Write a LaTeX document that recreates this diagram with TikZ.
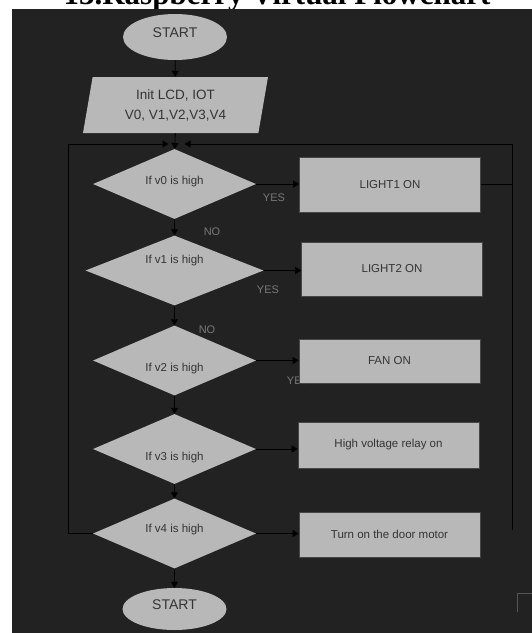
\documentclass[tikz,border=0pt]{standalone}
\usepackage{fontspec}
\setmainfont{Liberation Sans}
\newfontfamily\titlefont{Liberation Serif}
\usepackage{tikz}
\usetikzlibrary{shapes,arrows.meta}

\begin{document}
\begin{tikzpicture}[x=1pt,y=-1pt,
  oval/.style={ellipse,fill=shapeColor,inner sep=0pt,minimum width=104pt,text=txtColor,text depth=9pt,font=\fontsize{14}{16}\selectfont},
  cond/.style={diamond,fill=shapeColor,inner sep=0pt,minimum height=70pt},
  condtext/.style={text=txtColor,inner sep=0pt,font=\fontsize{11.5}{13}\selectfont},
  act/.style={rectangle,draw=boxLine,line width=0.6pt,fill=shapeColor,minimum width=181pt,text=txtColor,font=\fontsize{11.5}{13}\selectfont},
  ans/.style={text=ansColor,inner sep=0pt,font=\fontsize{11}{13}\selectfont},
  flow/.style={-{Triangle[length=6pt,width=7pt]},line width=0.8pt,color=black}]
\definecolor{bgColor}{RGB}{34,34,34}
\definecolor{shapeColor}{RGB}{184,184,184}
\definecolor{boxLine}{RGB}{70,70,70}
\definecolor{txtColor}{RGB}{52,52,52}
\definecolor{ansColor}{RGB}{120,120,120}
\useasboundingbox (0,0) rectangle (532,633);
% title, mostly cut off by the page
\node[anchor=base,font=\titlefont\bfseries\fontsize{31}{34}\selectfont] (title) at (277,4) {13.Raspberry Virtual Flowchart};
\fill[bgColor] (12,9) rectangle (532,633);
\draw[color=ansColor!60!bgColor,line width=0.8pt] (517,612) -- (517,593) -- (532,593);
% yes / no answers
\node[ans] (yes0) at (274,198) {YES};
\node[ans] (no0) at (212,232) {NO};
\node[ans] (yes1) at (268,290) {YES};
\node[ans] (no1) at (207,330) {NO};
\node[ans] (yes2) at (298,381) {YES};
% flow
\node[oval,minimum height=46pt] (start) at (175,37) {START};
\node[trapezium,trapezium left angle=73,trapezium right angle=107,trapezium stretches body,
  fill=shapeColor,inner sep=0pt,minimum width=185pt,minimum height=56pt,align=center,
  text=txtColor,font=\fontsize{13.5}{20}\selectfont] (init) at (175.5,105) {Init LCD, IOT\\V0, V1,V2,V3,V4};
\foreach \v/\y/\w/\dy in {0/184/163pt/2pt, 1/270.5/178pt/9.5pt, 2/360.5/163pt/-8.5pt, 3/449/163pt/-9pt, 4/533.5/163pt/3.5pt} {
  \node[cond,minimum width=\w] (d\v) at (174.5,\y) {};
  \node[condtext] (t\v) at ([yshift=\dy]d\v.center) {If v\v{} is high};
}
\foreach \v/\x/\y/\h/\t in {0/390/184.5/55pt/LIGHT1 ON, 1/392/269/54pt/LIGHT2 ON, 2/389.5/361/44pt/FAN ON, 3/388.5/445/46pt/High voltage relay on, 4/389.5/534.5/45pt/Turn on the door motor}
  \node[act,minimum height=\h] (b\v) at (\x,\y) {\t};
\node[oval,minimum height=42pt] (stop) at (174.5,609) {START};
\draw[flow] (start) -- (init);
\draw[flow] (init) -- (d0);
\foreach \a/\b in {0/1,1/2,2/3,3/4}
  \draw[flow] (d\a) -- (d\b);
\draw[flow] (d4) -- (stop);
\foreach \v in {0,...,4}
  \draw[flow] (d\v.east) -- (d\v.east -| b\v.west);
% loop back to the first test
\coordinate (ltop) at (68,144);
\coordinate (rtop) at (512,144);
\coordinate (rend) at (512,530);
\draw[flow] (d4.west) -| (ltop) -- ([xshift=-6pt]d0.north |- ltop);
\draw[flow] (b0.east) -| (rtop) -- ([xshift=10pt]d0.north |- rtop);
\draw[line width=0.8pt] (rtop) -- (rend);
\end{tikzpicture}
\end{document}
